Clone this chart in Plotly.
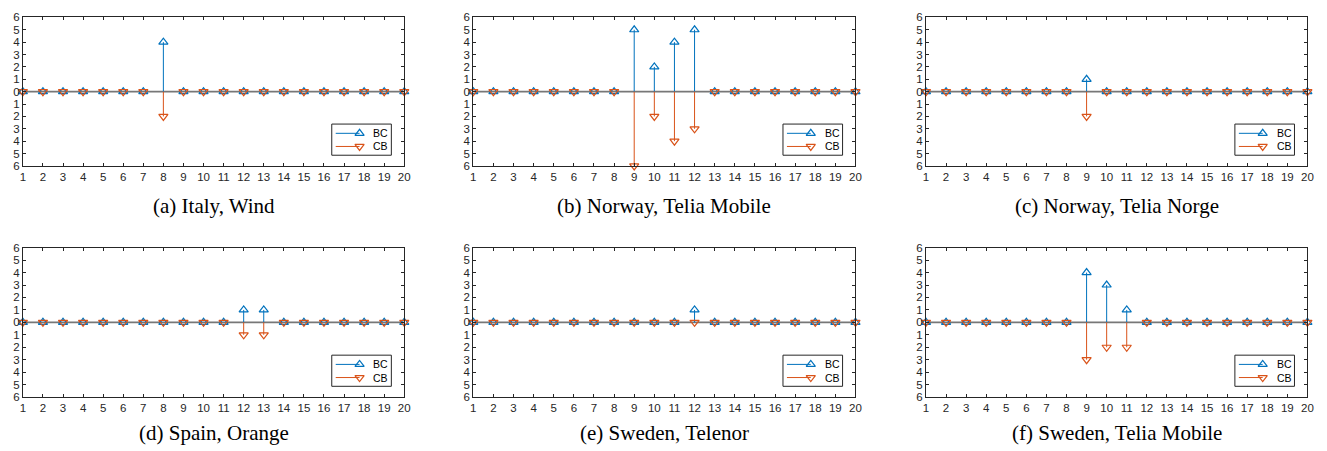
import plotly.graph_objects as go

W, H = 1327, 451

x_vals = list(range(1, 21))

titles = ["(a) Italy, Wind", "(b) Norway, Telia Mobile", "(c) Norway, Telia Norge",
          "(d) Spain, Orange", "(e) Sweden, Telenor", "(f) Sweden, Telia Mobile"]

def series(d):
    return [d.get(i, 0) for i in x_vals]

bc_italy_wind = series({8: 4})
cb_italy_wind = series({8: 2})
bc_norway_telia_mobile = series({9: 5, 10: 2, 11: 4, 12: 5})
cb_norway_telia_mobile = series({9: 6, 10: 2, 11: 4, 12: 3})
bc_norway_telia_norge = series({9: 1})
cb_norway_telia_norge = series({9: 2})
bc_spain_orange = series({12: 1, 13: 1})
cb_spain_orange = series({12: 1, 13: 1})
bc_sweden_telenor = series({12: 1})
cb_sweden_telenor = series({12: 0})
bc_sweden_telia_mobile = series({9: 4, 10: 3, 11: 1})
cb_sweden_telia_mobile = series({9: 3, 10: 2, 11: 2})

bc_all = [bc_italy_wind, bc_norway_telia_mobile, bc_norway_telia_norge,
          bc_spain_orange, bc_sweden_telenor, bc_sweden_telia_mobile]
cb_all = [cb_italy_wind, cb_norway_telia_mobile, cb_norway_telia_norge,
          cb_spain_orange, cb_sweden_telenor, cb_sweden_telia_mobile]

legend_names = ["BC", "CB"]

y_ticks = list(range(-6, 7))
y_ticktext = [str(abs(v)) for v in y_ticks]

BLUE = "#0072BD"
ORANGE = "#D95319"
AX = "#262626"
TICKFONT = dict(family="Liberation Sans", size=11.5, color=AX)

# panel pixel boxes: (left, right, top, bottom)
cols = [(20, 404), (473.5, 858.3), (929.3, 1313.3)]
rows = [(11.7, 164.3), (248.3, 401.7)]
cap_y = [205.5, 439]

fig = go.Figure()
layout = dict(width=W, height=H, autosize=False, margin=dict(l=0, r=0, t=0, b=0),
              paper_bgcolor="white", plot_bgcolor="rgba(0,0,0,0)", showlegend=False)
annotations = []
shapes = []

def stem_xy(vals, sign):
    xs, ys = [], []
    for xi, v in zip(x_vals, vals):
        xs += [xi, xi, None]
        ys += [0, sign * v, None]
    return xs, ys

styles = [(1, BLUE, "triangle-up-open"), (-1, ORANGE, "triangle-down-open")]

for k in range(6):
    r, c = divmod(k, 3)
    l, rr = cols[c]
    t, b = rows[r]
    n = "" if k == 0 else str(k + 1)
    xa, ya = "x" + n, "y" + n
    layout["xaxis" + n] = dict(domain=[l / W, rr / W], range=[1, 20], anchor=ya,
                               tickvals=x_vals, ticks="inside", ticklen=3, tickcolor=AX,
                               showline=True, linecolor=AX, linewidth=1, mirror="ticks",
                               showgrid=False, zeroline=False, fixedrange=True,
                               tickfont=TICKFONT)
    layout["yaxis" + n] = dict(domain=[1 - b / H, 1 - t / H], range=[-6, 6], anchor=xa,
                               tickvals=y_ticks, ticktext=y_ticktext, ticks="inside",
                               ticklen=3, tickcolor=AX, showline=True, linecolor=AX,
                               linewidth=1, mirror="ticks", showgrid=False, zeroline=False,
                               fixedrange=True, tickfont=TICKFONT)
    shapes.append(dict(type="line", xref=xa + " domain", yref=ya, x0=0, x1=1, y0=0, y1=0,
                       line=dict(color="#777777", width=1.6), layer="below"))
    annotations.append(dict(text=titles[k], xref="paper", yref="paper",
                            x=(l + rr) / 2 / W, y=1 - cap_y[r] / H, xanchor="center",
                            yanchor="middle", showarrow=False,
                            font=dict(family="Liberation Serif", size=21, color="black")))

    for vals, (sign, col, sym) in zip([bc_all[k], cb_all[k]], styles):
        sx, sy = stem_xy(vals, sign)
        fig.add_trace(go.Scatter(x=sx, y=sy, mode="lines", line=dict(color=col, width=1),
                                 xaxis=xa, yaxis=ya, hoverinfo="skip"))
        fig.add_trace(go.Scatter(x=x_vals, y=[sign * v for v in vals], mode="markers",
                                 marker=dict(symbol=sym, size=8, color=col, line=dict(width=1.2)),
                                 xaxis=xa, yaxis=ya, cliponaxis=False))

# legend boxes drawn on a hidden full-page axis measured in pixels
layout["xaxis7"] = dict(domain=[0, 1], range=[0, W], visible=False, anchor="y7", fixedrange=True)
layout["yaxis7"] = dict(domain=[0, 1], range=[H, 0], visible=False, anchor="x7", fixedrange=True)
for k in range(6):
    r, c = divmod(k, 3)
    rr = cols[c][1]
    b = rows[r][1]
    shapes.append(dict(type="rect", xref="x7", yref="y7", x0=rr - 73, x1=rr - 13,
                       y0=b - 43, y1=b - 11, line=dict(color=AX, width=1),
                       fillcolor="rgba(0,0,0,0)", layer="above"))
    for j, (name, (sign, col, sym)) in enumerate(zip(legend_names, styles)):
        yy = b - 33.5 + 13.5 * j
        fig.add_trace(go.Scatter(x=[rr - 69, rr - 45], y=[yy, yy], mode="lines",
                                 line=dict(color=col, width=1), xaxis="x7", yaxis="y7",
                                 hoverinfo="skip"))
        fig.add_trace(go.Scatter(x=[rr - 45], y=[yy], mode="markers",
                                 marker=dict(symbol=sym, size=8, color=col, line=dict(width=1.2)),
                                 xaxis="x7", yaxis="y7", hoverinfo="skip"))
        annotations.append(dict(text=name, xref="x7", yref="y7", x=rr - 33, y=yy,
                                xanchor="left", yanchor="middle", showarrow=False,
                                font=dict(family="Liberation Sans", size=10.5, color="black")))

layout["annotations"] = annotations
layout["shapes"] = shapes
fig.update_layout(**layout)
fig.write_html("out.html", config={"displayModeBar": False},
               post_script="document.body.style.margin='0';document.body.style.overflow='hidden';")
